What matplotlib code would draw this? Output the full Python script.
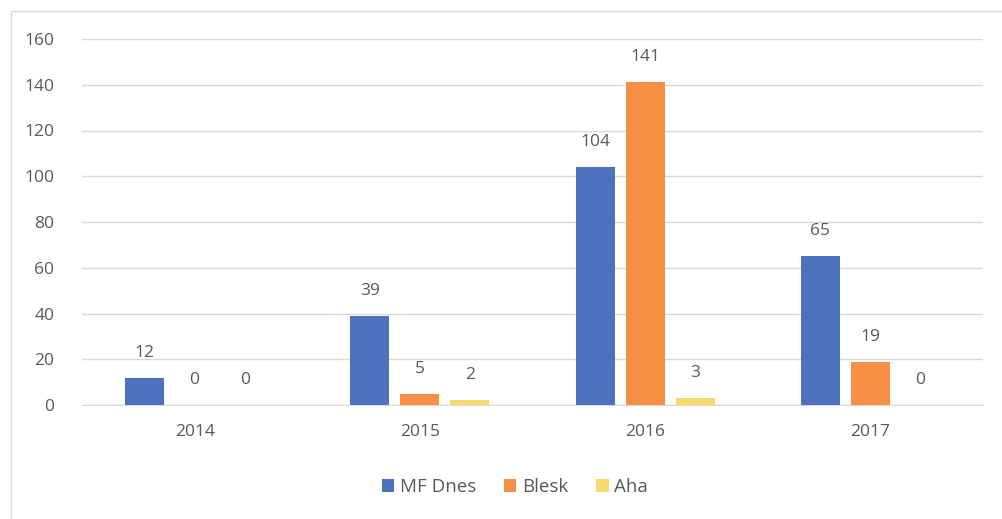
import matplotlib
matplotlib.use("Agg")
import matplotlib.pyplot as plt
import numpy as np
from matplotlib.patches import Rectangle

years = ["2014", "2015", "2016", "2017"]
series_names = ["MF Dnes", "Blesk", "Aha"]
mf_dnes = [12, 39, 104, 65]
blesk = [0, 5, 141, 19]
aha = [0, 2, 3, 0]
yticks = [0, 20, 40, 60, 80, 100, 120, 140, 160]

colors = ["#4E72BE", "#F58F45", "#F7DA6E"]
text_color = "#595959"

plt.rcParams['font.family'] = ['Open Sans', 'DejaVu Sans']

W, H = 1003, 519
fig = plt.figure(figsize=(W / 100, H / 100), dpi=100)
ax = fig.add_axes([82 / W, 1 - 405 / H, (983 - 82) / W, (405 - 39) / H])

x = np.arange(len(years))
step = 0.222
width = 0.173
data = [mf_dnes, blesk, aha]
handles = []
for i, (vals, name, c) in enumerate(zip(data, series_names, colors)):
    pos = x + (i - 1) * step
    b = ax.bar(pos, vals, width=width, color=c, label=name, zorder=3)
    handles.append(b)
    for px, v in zip(pos, vals):
        ax.annotate(str(v), (px, v), xytext=(0, 18), textcoords="offset points",
                    ha="center", va="center", fontsize=12.5, color=text_color)

ax.set_xlim(-0.5, 3.5)
ax.set_ylim(0, 160)
ax.set_yticks(yticks)
ax.set_xticks(x)
ax.set_xticklabels(years)
ax.yaxis.grid(True, color="#D9D9D9", linewidth=1, zorder=0)
for s in ["top", "right", "left"]:
    ax.spines[s].set_visible(False)
ax.spines["bottom"].set_color("#D9D9D9")
ax.tick_params(axis="both", length=0, labelsize=12.5, labelcolor=text_color)
ax.tick_params(axis="x", pad=14)
ax.tick_params(axis="y", pad=20)

leg = fig.legend(handles=handles, labels=series_names, loc="center",
                 bbox_to_anchor=(515 / W, 1 - 487 / H), ncol=3, frameon=False,
                 fontsize=13.5, handlelength=0.65, handleheight=0.65,
                 handletextpad=0.3, columnspacing=1.5, labelcolor=text_color)

# outer chart frame
fig.patches.append(Rectangle((11 / W, -0.1), 1.2, 1 - 11 / H + 0.1,
                             transform=fig.transFigure, fill=False,
                             edgecolor="#D9D9D9", linewidth=1))

fig.savefig("out.png", dpi=100, facecolor="white")
